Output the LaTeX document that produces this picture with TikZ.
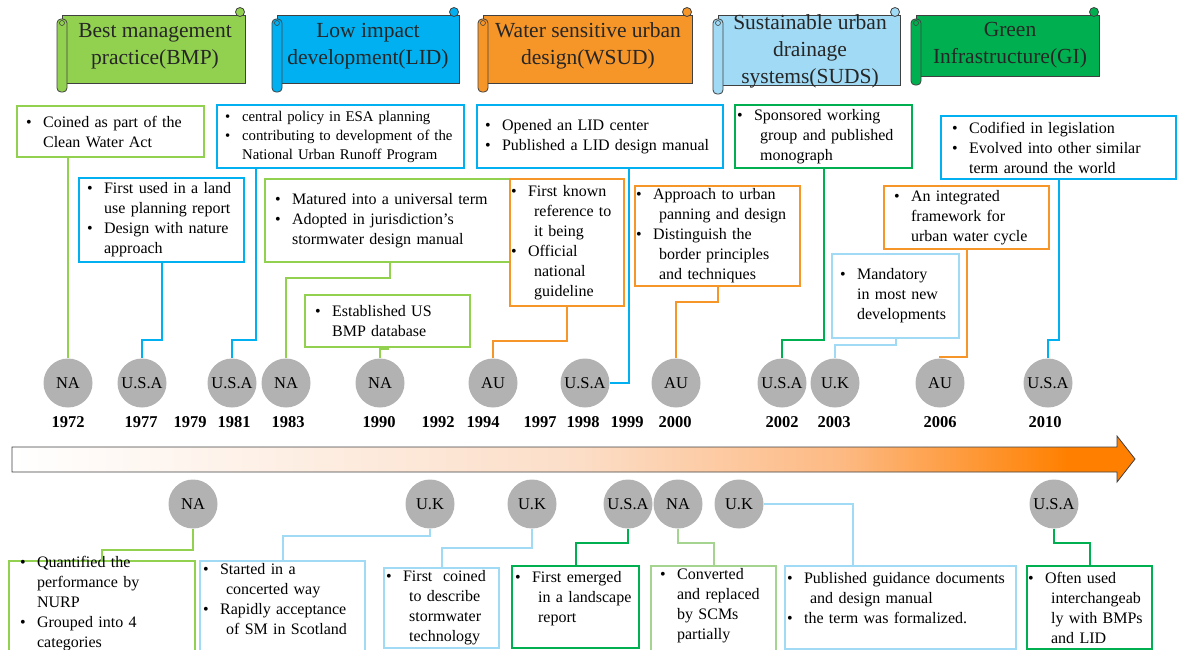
\documentclass[tikz,border=0pt]{standalone}
\usepackage{fontspec}
\setmainfont{Liberation Serif}

\definecolor{bmpgreen}{RGB}{146,208,80}
\definecolor{lidblue}{RGB}{0,176,240}
\definecolor{wsudorange}{RGB}{247,150,40}
\definecolor{sudsblue}{RGB}{160,218,245}
\definecolor{gigreen}{RGB}{0,176,80}
\definecolor{palegreen}{RGB}{165,212,145}
\definecolor{circgray}{RGB}{178,178,178}
\definecolor{rimgray}{RGB}{64,64,64}
\definecolor{peach}{RGB}{252,222,200}
\definecolor{midorange}{RGB}{253,185,130}
\definecolor{arroworange}{RGB}{255,128,0}

\pgfdeclarehorizontalshading{axisfade}{100bp}{color(0bp)=(white); color(25bp)=(white); color(50bp)=(peach); color(62bp)=(midorange); color(72bp)=(arroworange); color(100bp)=(arroworange)}

% bullets inside the boxes
\newcommand{\bul}{\makebox[17pt][l]{\textbullet}}
\newcommand{\ind}{\hspace*{17pt}}
\newcommand{\indx}{\hspace*{23pt}}

% scroll shaped banner: x0, y0, x1, y1, colour
\newcommand{\scrollbanner}[5]{%
  \draw[rimgray, line width=0.8pt, fill=#5] (#1+5,#2) rectangle (#3,#4);
  \draw[rimgray, line width=0.8pt, fill=#5, rounded corners=4pt] (#1,#2+4) rectangle (#1+10,#4+9);
  \draw[rimgray, line width=0.6pt] (#1+5,#2+8) circle (2.5pt);
  \draw[rimgray, line width=0.8pt, fill=#5] (#3-5,#2-3) circle (4.5pt);
}

\begin{document}
\begin{tikzpicture}[x=1pt, y=-1pt,
  info/.style={draw, line width=2.2pt, fill=white, anchor=north west, align=left, inner ysep=2pt, font=\fontsize{16}{20}\selectfont},
  country/.style={circle, fill=circgray, minimum size=49pt, inner sep=0pt, font=\fontsize{16.5}{20}\selectfont},
  year/.style={font=\bfseries\fontsize{16.5}{20}\selectfont},
  bannertext/.style={align=center, inner sep=0pt, text=black!85, font=\fontsize{21.5}{27}\selectfont},
  link/.style={line width=2.2pt}]
\useasboundingbox (0,0) rectangle (1177,649);
\clip (0,0) rectangle (1177,649);

% Banners
\scrollbanner{57}{15}{245}{83}{bmpgreen}
\scrollbanner{272}{15}{459}{83}{lidblue}
\scrollbanner{478}{15}{692}{83}{wsudorange}
\scrollbanner{713}{15}{900}{85}{sudsblue}
\scrollbanner{911}{15}{1099}{76}{gigreen}
\node[bannertext] (bmp) at (155,46) {Best management\\practice(BMP)};
\node[bannertext] (lid) at (368,46) {Low impact\\development(LID)};
\node[bannertext] (wsud) at (588,46) {Water sensitive urban\\design(WSUD)};
\node[bannertext] (suds) at (810,51) {Sustainable urban\\drainage\\systems(SUDS)};
\node[bannertext] (gi) at (1010,45) {Green\\Infrastructure(GI)};

% Time axis
\shadedraw[shading=axisfade, draw=rimgray, line width=0.8pt] (12,447) -- (1117,447) -- (1117,436) -- (1135,459) -- (1117,482) -- (1117,472) -- (12,472) -- cycle;

% Boxes above the axis
\node[info, draw=bmpgreen, inner xsep=9pt, text width=169pt, minimum height=51pt] (coined) at (16,105) {\bul Coined as part of the\\\ind Clean Water Act};
\node[info, draw=lidblue, inner xsep=8pt, text width=149pt, minimum height=84pt] (landuse) at (78,177) {\bul First used in a land\\\ind use planning report\\\bul Design with nature\\\ind approach};
\node[info, draw=lidblue, inner xsep=8pt, text width=231pt, minimum height=63pt, font=\fontsize{14.8}{19}\selectfont] (esa) at (216,104) {\bul central policy in ESA planning\\\bul contributing to development of the\\\ind National Urban Runoff Program};
\node[info, draw=bmpgreen, inner xsep=10pt, text width=229pt, minimum height=83pt] (matured) at (264,178) {\bul Matured into a universal term\\\bul Adopted in jurisdiction’s\\\ind stormwater design manual};
\node[info, draw=bmpgreen, inner xsep=10pt, text width=145pt, minimum height=52pt] (database) at (304,294) {\bul Established US\\\ind BMP database};
\node[info, draw=wsudorange, inner xsep=1pt, text width=112pt, minimum height=127pt] (firstknown) at (509,178) {\bul First known\\\indx reference to\\\indx it being\\\bul Official\\\indx national\\\indx guideline};
\node[info, draw=lidblue, inner xsep=8pt, text width=230pt, minimum height=63pt] (lidcenter) at (476,104) {\bul Opened an LID center\\\bul Published a LID design manual};
\node[info, draw=wsudorange, inner xsep=1pt, text width=163pt, minimum height=100pt] (approach) at (634,185) {\bul Approach to urban\\\indx panning and design\\\bul Distinguish the\\\indx border principles\\\indx and techniques};
\node[info, draw=gigreen, inner xsep=2pt, text width=173pt, minimum height=63pt] (sponsored) at (734,104) {\bul Sponsored working\\\indx group and published\\\indx monograph};
\node[info, draw=wsudorange, inner xsep=10pt, text width=145pt, minimum height=63pt] (integrated) at (883,185) {\bul An integrated\\\ind framework for\\\ind urban water cycle};
\node[info, draw=sudsblue, inner xsep=8pt, text width=111pt, minimum height=84pt] (mandatory) at (831,253) {\bul Mandatory\\\ind in most new\\\ind developments};
\node[info, draw=lidblue, inner xsep=11pt, text width=213pt, minimum height=63pt] (codified) at (940,115) {\bul Codified in legislation\\\bul Evolved into other similar\\\ind term around the world};

% Countries and years
\node[country] (c1972) at (68,383) {NA};
\node[country] (c1977) at (142,383) {U.S.A};
\node[country] (c1981) at (232,383) {U.S.A};
\node[country] (c1983) at (286,383) {NA};
\node[country] (c1990) at (380,383) {NA};
\node[country] (c1994) at (493,383) {AU};
\node[country] (c1998) at (585,383) {U.S.A};
\node[country] (c2000) at (676,383) {AU};
\node[country] (c2002) at (782,383) {U.S.A};
\node[country] (c2003) at (835,383) {U.K};
\node[country] (c2006) at (940,383) {AU};
\node[country] (c2010) at (1048,383) {U.S.A};

\node[year] (y1972) at (68,422) {1972};
\node[year] (y1977) at (141,422) {1977};
\node[year] (y1979) at (190,422) {1979};
\node[year] (y1981) at (234,422) {1981};
\node[year] (y1983) at (288,422) {1983};
\node[year] (y1990) at (379,422) {1990};
\node[year] (y1992) at (438,422) {1992};
\node[year] (y1994) at (483,422) {1994};
\node[year] (y1997) at (540,422) {1997};
\node[year] (y1998) at (583,422) {1998};
\node[year] (y1999) at (627,422) {1999};
\node[year] (y2000) at (675,422) {2000};
\node[year] (y2002) at (782,422) {2002};
\node[year] (y2003) at (834,422) {2003};
\node[year] (y2006) at (940,422) {2006};
\node[year] (y2010) at (1045,422) {2010};

\node[country] (low1979) at (193,504) {NA};
\node[country] (low1992) at (430,504) {U.K};
\node[country] (low1997) at (532,504) {U.K};
\node[country] (low1999) at (628,504) {U.S.A};
\node[country] (low2000) at (678,504) {NA};
\node[country] (low2001) at (739,504) {U.K};
\node[country] (low2010) at (1054,504) {U.S.A};

% Boxes below the axis
\node[info, draw=bmpgreen, inner xsep=11pt, inner ysep=-5pt, text width=164pt] (quantified) at (8,560) {\bul Quantified the\\\ind performance by\\\ind NURP\\\bul Grouped into 4\\\ind categories\\\mbox{}};
\node[info, draw=sudsblue, inner xsep=3pt, text width=159pt] (concerted) at (199,560) {\bul Started in a\\\indx concerted way\\\bul Rapidly acceptance\\\indx of SM in Scotland\\\mbox{}};
\node[info, draw=sudsblue, inner xsep=2pt, inner ysep=1pt, text width=111pt, minimum height=80pt] (coinedsw) at (383,567) {\bul First\ \ coined\\\indx to describe\\\indx stormwater\\\indx technology};
\node[info, draw=gigreen, inner xsep=3pt, text width=121pt, minimum height=82pt] (emerged) at (511,565) {\bul First emerged\\\indx in a landscape\\\indx report\\\mbox{}};
\node[info, draw=palegreen, inner xsep=9pt, text width=107pt] (converted) at (650,565) {\bul Converted\\\ind and replaced\\\ind by SCMs\\\ind partially\\\mbox{}};
\node[info, draw=sudsblue, inner xsep=2pt, text width=227pt, minimum height=83pt] (guidance) at (784,565) {\bul Published guidance documents\\\indx and design manual\\\bul the term was formalized.\\\mbox{}};
\node[info, draw=gigreen, inner xsep=1pt, text width=123pt, minimum height=83pt] (interchange) at (1026,565) {\bul Often used\\\indx interchangeab\\\indx ly with BMPs\\\indx and LID};

% Connectors above
\draw[link, bmpgreen] (coined.south -| c1972) -- (c1972.north);
\draw[link, lidblue] (landuse.south) -- (landuse.south |- 0,340) -| (c1977.north);
\draw[link, lidblue] (esa.south -| 256,0) -- (256,340) -| (c1981.north);
\draw[link, bmpgreen] (matured.south) -- (matured.south |- 0,278) -| (c1983.north);
\draw[link, bmpgreen] (database.south) -- (database.south |- 0,349) -| (c1990.north);
\draw[link, wsudorange] (firstknown.south) -- (firstknown.south |- 0,341) -| (c1994.north);
\draw[link, lidblue] (lidcenter.south -| 629,0) |- (c1998.east);
\draw[link, wsudorange] (approach.south) -- (approach.south |- 0,302) -| (c2000.north);
\draw[link, gigreen] (sponsored.south) -- (sponsored.south |- 0,340) -| (c2002.north);
\draw[link, sudsblue] (mandatory.south) -- (mandatory.south |- 0,345) -| (c2003.north);
\draw[link, wsudorange] (integrated.south) -- (integrated.south |- 0,357) -| (c2006.north);
\draw[link, lidblue] (codified.south) -- (codified.south |- 0,340) -| (c2010.north);

% Connectors below
\draw[link, bmpgreen] (low1979.south) -- (low1979.south |- 0,550) -| (quantified.north);
\draw[link, sudsblue] (low1992.south) -- (low1992.south |- 0,536) -| (concerted.north);
\draw[link, sudsblue] (low1997.south) -- (low1997.south |- 0,548) -| (coinedsw.north);
\draw[link, gigreen] (low1999.south) -- (low1999.south |- 0,543) -| (emerged.north);
\draw[link, palegreen] (low2000.south) -- (low2000.south |- 0,543) -| (converted.north);
\draw[link, sudsblue] (low2001.east) -| (guidance.north -| 853,0);
\draw[link, gigreen] (low2010.south) -- (low2010.south |- 0,543) -| (interchange.north);
\end{tikzpicture}
\end{document}
